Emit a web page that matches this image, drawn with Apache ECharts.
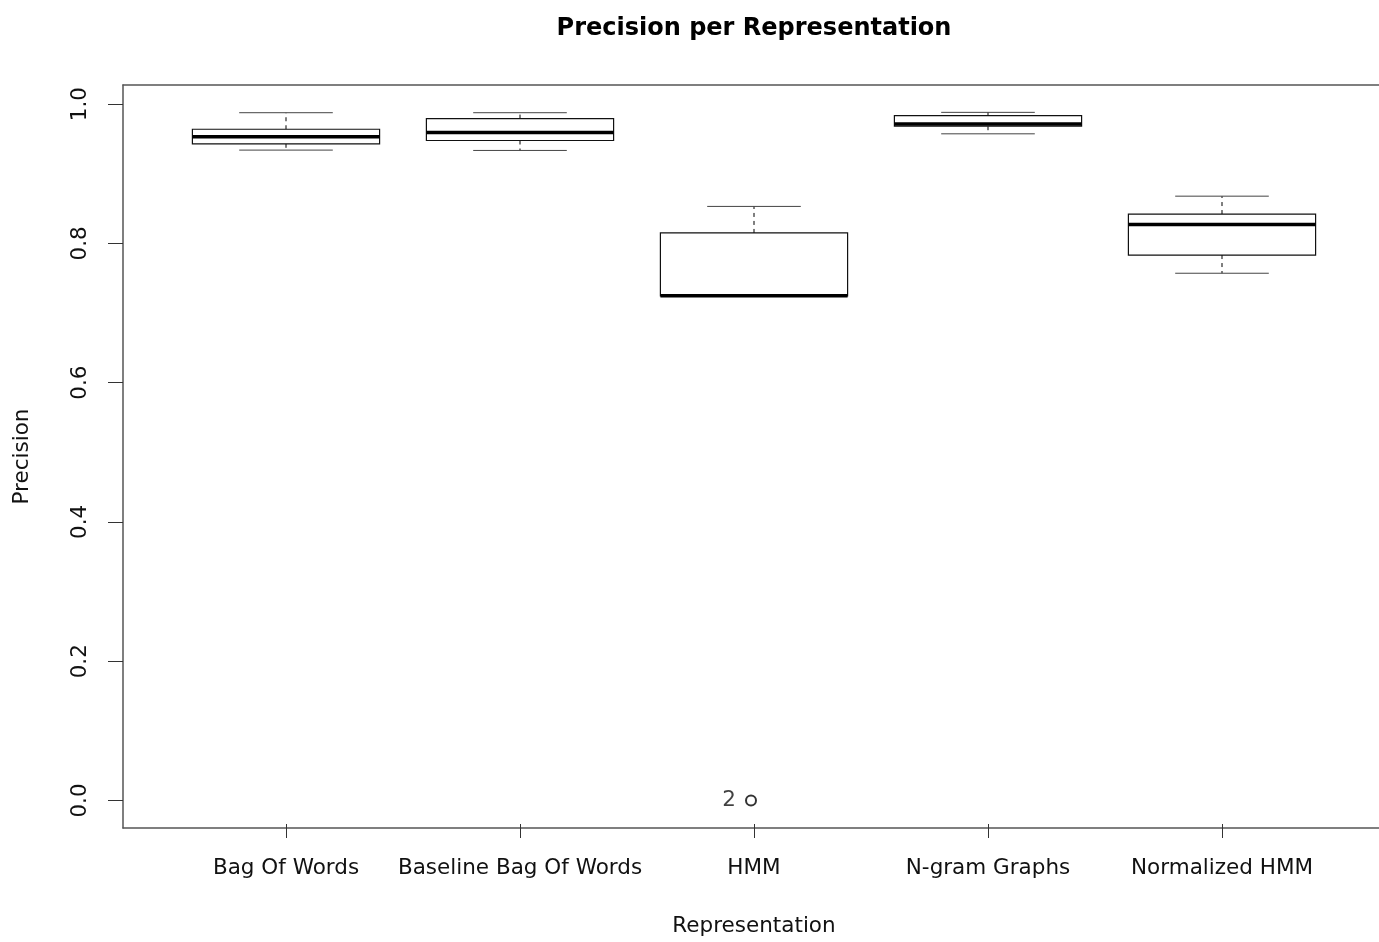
<!DOCTYPE html>
<html>
<head>
<meta charset="utf-8">
<script src="https://cdn.jsdelivr.net/npm/echarts@6/dist/echarts.min.js"></script>
<style>
  html, body { margin: 0; padding: 0; background: #fff; }
  #chart { width: 1379px; height: 942px; }
</style>
</head>
<body>
<div id="chart"></div>
<script>
// Precision summary (five-number boxplot statistics) per representation
const categories = ['Bag Of Words', 'Baseline Bag Of Words', 'HMM', 'N-gram Graphs', 'Normalized HMM'];
const whiskerLow  = [0.9335, 0.9330, 0.7231, 0.9570, 0.7557];
const q1          = [0.9426, 0.9474, 0.7231, 0.9680, 0.7820];
const median      = [0.9528, 0.9588, 0.7231, 0.9713, 0.8260];
const q3          = [0.9636, 0.9790, 0.8139, 0.9833, 0.8412];
const whiskerHigh = [0.9875, 0.9875, 0.8522, 0.9880, 0.8670];
// outliers: [category index, value, point label]
const outliers = [[2, 0.0, '2']];
const yTicks = [0, 0.2, 0.4, 0.6, 0.8, 1.0];

const FONT = '"DejaVu Sans", "Liberation Sans", Arial, sans-serif';
const FS = 21.5;
const yMin = -0.0395, yMax = 1.0275;
const FRAME = '#555';

const boxData = categories.map((c, i) => [i, whiskerLow[i], q1[i], median[i], q3[i], whiskerHigh[i]]);

function renderBox(params, api) {
  const i = api.value(0);
  const band = api.size([1, 0])[0];
  const half = band * 0.4;
  const capHalf = band * 0.2;
  const pLow = api.coord([i, api.value(1)]);
  const pQ1 = api.coord([i, api.value(2)]);
  const pMed = api.coord([i, api.value(3)]);
  const pQ3 = api.coord([i, api.value(4)]);
  const pHigh = api.coord([i, api.value(5)]);
  const x = pMed[0];
  const dashed = { stroke: '#000', lineWidth: 1, lineDash: [4, 4] };
  const cap = { stroke: '#444', lineWidth: 1 };
  return {
    type: 'group',
    children: [
      { type: 'line', shape: { x1: x, y1: pQ3[1], x2: x, y2: pHigh[1] }, style: dashed },
      { type: 'line', shape: { x1: x, y1: pQ1[1], x2: x, y2: pLow[1] }, style: dashed },
      { type: 'line', shape: { x1: x - capHalf, y1: pHigh[1], x2: x + capHalf, y2: pHigh[1] }, style: cap },
      { type: 'line', shape: { x1: x - capHalf, y1: pLow[1], x2: x + capHalf, y2: pLow[1] }, style: cap },
      { type: 'rect', shape: { x: x - half, y: pQ3[1], width: 2 * half, height: pQ1[1] - pQ3[1] }, style: { fill: '#fff', stroke: '#111', lineWidth: 1.2 } },
      { type: 'line', shape: { x1: x - half, y1: pMed[1], x2: x + half, y2: pMed[1] }, style: { stroke: '#000', lineWidth: 3.5 } }
    ]
  };
}

const chart = echarts.init(document.getElementById('chart'), null, { renderer: 'canvas' });
chart.setOption({
  backgroundColor: '#fff',
  animation: false,
  textStyle: { fontFamily: FONT },
  title: {
    text: 'Precision per Representation',
    left: 749,
    top: 12,
    textAlign: 'center',
    textStyle: { fontFamily: FONT, fontWeight: 'bold', fontSize: 24, color: '#000' }
  },
  grid: [
    { left: 123, top: 85, width: 1263, height: 743 },
    { left: 169, top: 85, width: 1170, height: 743 }
  ],
  xAxis: [
    // plot frame: bottom edge (positions 1..5 map onto the category centres)
    { gridIndex: 0, type: 'value', min: 0.3, max: 5.7, position: 'bottom',
      axisLine: { show: true, onZero: false, lineStyle: { color: FRAME, width: 1.5 } },
      axisTick: { show: false }, axisLabel: { show: false }, splitLine: { show: false } },
    // plot frame: top edge
    { gridIndex: 0, type: 'value', min: 0.3, max: 5.7, position: 'top',
      axisLine: { show: true, onZero: false, lineStyle: { color: FRAME, width: 1.5 } },
      axisTick: { show: false }, axisLabel: { show: false }, splitLine: { show: false } },
    {
      gridIndex: 1, type: 'category', data: categories,
      boundaryGap: true, position: 'bottom',
      axisLine: { show: false, onZero: false },
      axisTick: { show: true, alignWithLabel: true, length: 14, lineStyle: { color: '#333', width: 1 } },
      axisLabel: { margin: 33, fontSize: FS, color: '#111', fontFamily: FONT, interval: 0 },
      splitLine: { show: false },
      name: 'Representation',
      nameLocation: 'middle',
      nameGap: 91,
      nameTextStyle: { fontSize: FS, color: '#111', fontFamily: FONT }
    }
  ],
  yAxis: [
    {
      gridIndex: 0, type: 'value', min: yMin, max: yMax,
      axisLine: { show: true, onZero: false, lineStyle: { color: FRAME, width: 1.5 } },
      axisTick: { show: true, customValues: yTicks, length: 15, lineStyle: { color: '#333', width: 1 } },
      axisLabel: { customValues: yTicks, rotate: 90, margin: 32, fontSize: FS, color: '#111', fontFamily: FONT,
                   formatter: v => v.toFixed(1) },
      splitLine: { show: false },
      name: 'Precision',
      nameLocation: 'middle',
      nameRotate: 90,
      nameGap: 90,
      nameTextStyle: { fontSize: FS, color: '#111', fontFamily: FONT }
    },
    { gridIndex: 1, type: 'value', min: yMin, max: yMax, show: false }
  ],
  series: [
    {
      type: 'custom',
      xAxisIndex: 2, yAxisIndex: 1,
      data: boxData,
      encode: { x: 0, y: [1, 2, 3, 4, 5] },
      renderItem: renderBox,
      clip: false
    },
    {
      type: 'scatter',
      xAxisIndex: 0, yAxisIndex: 0,
      data: outliers.map(o => ({ value: [o[0] + 1, o[1]], name: o[2] })),
      symbol: 'emptyCircle',
      symbolSize: 10,
      itemStyle: { color: '#000', borderColor: '#000', borderWidth: 1 },
      label: { show: true, position: 'left', distance: 9, formatter: p => p.name, fontSize: FS, color: '#111', fontFamily: FONT }
    }
  ]
});
</script>
</body>
</html>
